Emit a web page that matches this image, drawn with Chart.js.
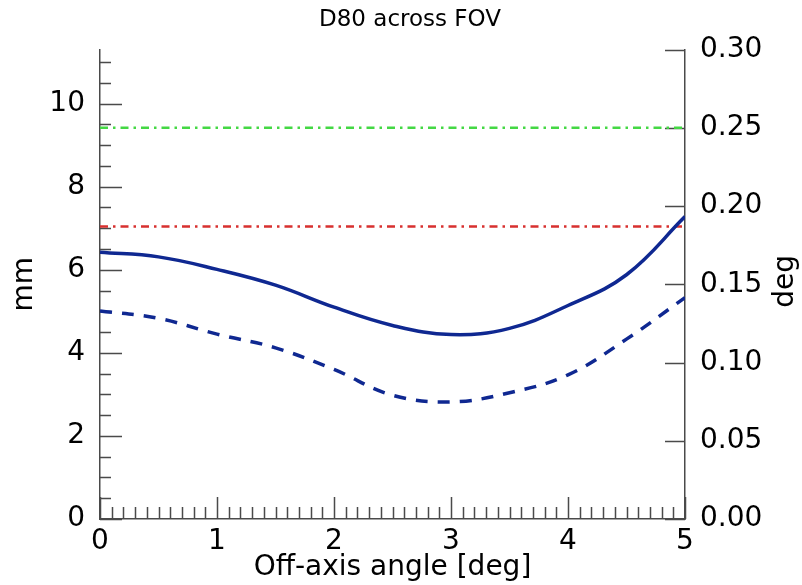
<!DOCTYPE html>
<html>
<head>
<meta charset="utf-8">
<script src="https://cdn.jsdelivr.net/npm/chart.js@4.4.1/dist/chart.umd.min.js"></script>
<style>
  body { margin: 0; background: #fff; }
  #wrap { width: 802px; height: 585px; }
</style>
</head>
<body>
<div id="wrap"><canvas id="grafico"></canvas></div>
<script>
// Dados
const angulos = [0, 0.5, 1, 1.5, 2, 2.5, 3, 3.5, 4, 4.5, 5];
const d80Cheio = [6.42, 6.31, 6.01, 5.63, 5.10, 4.66, 4.44, 4.59, 5.14, 5.88, 7.28];
const d80Tracejado = [5.01, 4.83, 4.45, 4.12, 3.60, 2.98, 2.82, 3.04, 3.47, 4.33, 5.33];
const limiteVerde = 0.25;   // deg
const limiteVermelho = 0.187; // deg
const faixaX = [0, 5];
const maxMm = 11.3;
const maxDeg = 0.3;

Chart.defaults.font.family = "'DejaVu Sans', sans-serif";
Chart.defaults.color = '#000';

const azul = '#0f2891';
const cinza = '#4a4a4a';

function pontos(xs, ys) {
    return xs.map((x, i) => ({ x, y: ys[i] }));
}

// Ticks internos e títulos verticais
const ticksInternos = {
    id: 'ticksInternos',
    beforeDatasetsDraw(chart) {
        const { ctx, chartArea: a, scales } = chart;
        ctx.save();
        ctx.strokeStyle = cinza;
        ctx.lineWidth = 1.5;
        ctx.beginPath();
        // esquerda
        for (let i = 0; i * 0.5 <= maxMm + 1e-9; i++) {
            const v = i * 0.5;
            const y = Math.round(scales.y.getPixelForValue(v)) + 0.5;
            const len = (i % 4 === 0) ? 22 : 11;
            ctx.moveTo(a.left, y);
            ctx.lineTo(a.left + len, y);
        }
        // direita
        for (let i = 0; i <= 6; i++) {
            const y = Math.round(scales.y2.getPixelForValue(i * 0.05)) + 0.5;
            ctx.moveTo(a.right, y);
            ctx.lineTo(a.right - 20, y);
        }
        // baixo
        for (let i = 0; i <= 50; i++) {
            const x = Math.round(scales.x.getPixelForValue(i / 10)) + 0.5;
            const len = (i % 10 === 0) ? 22 : 12;
            ctx.moveTo(x, a.bottom);
            ctx.lineTo(x, a.bottom - len);
        }
        ctx.stroke();
        ctx.restore();
    },
    afterDraw(chart) {
        const { ctx, chartArea: a } = chart;
        const meio = (a.top + a.bottom) / 2;
        ctx.save();
        ctx.fillStyle = '#000';
        ctx.font = "28px 'DejaVu Sans'";
        ctx.textAlign = 'center';
        ctx.textBaseline = 'middle';
        ctx.translate(25, meio);
        ctx.rotate(-Math.PI / 2);
        ctx.fillText('mm', 0, 0);
        ctx.restore();
        ctx.save();
        ctx.fillStyle = '#000';
        ctx.font = "28px 'DejaVu Sans'";
        ctx.textAlign = 'center';
        ctx.textBaseline = 'middle';
        ctx.translate(786, meio - 3);
        ctx.rotate(-Math.PI / 2);
        ctx.fillText('deg', 0, 0);
        ctx.restore();
    }
};

new Chart(document.getElementById('grafico'), {
    type: 'line',
    data: {
        datasets: [
            {
                data: pontos(angulos, d80Cheio),
                yAxisID: 'y',
                borderColor: azul,
                borderWidth: 3.5,
                pointRadius: 0,
                tension: 0.4
            },
            {
                data: pontos(angulos, d80Tracejado),
                yAxisID: 'y',
                borderColor: azul,
                borderWidth: 3.5,
                borderDash: [12, 10],
                pointRadius: 0,
                tension: 0.4
            },
            {
                data: pontos(faixaX, [limiteVerde, limiteVerde]),
                yAxisID: 'y2',
                borderColor: '#44d844',
                borderWidth: 2.5,
                borderDash: [8, 5, 2.5, 5],
                pointRadius: 0
            },
            {
                data: pontos(faixaX, [limiteVermelho, limiteVermelho]),
                yAxisID: 'y2',
                borderColor: '#d8302f',
                borderWidth: 2.5,
                borderDash: [8, 5, 2.5, 5],
                pointRadius: 0
            }
        ]
    },
    options: {
        responsive: true,
        maintainAspectRatio: false,
        animation: false,
        layout: { padding: { left: 18, right: 0, top: 0, bottom: 0 } },
        plugins: {
            legend: { display: false },
            tooltip: { enabled: false },
            title: {
                display: true,
                text: 'D80 across FOV',
                color: '#000',
                font: { size: 23, weight: 'normal' },
                padding: { top: 6, bottom: 16 }
            }
        },
        scales: {
            x: {
                type: 'linear',
                min: 0,
                max: 5,
                grid: { display: false, drawTicks: false },
                border: { color: cinza, width: 1.5 },
                ticks: { stepSize: 1, font: { size: 28 }, padding: 6, maxRotation: 0, autoSkip: false },
                title: {
                    display: true,
                    text: 'Off-axis angle [deg]',
                    font: { size: 28 },
                    padding: { top: 0, bottom: 0 }
                },
                afterFit: s => { s.height = 66; }
            },
            y: {
                position: 'left',
                min: 0,
                max: maxMm,
                grid: { display: false, drawTicks: false },
                border: { color: cinza, width: 1.5 },
                ticks: {
                    stepSize: 2,
                    font: { size: 28 },
                    padding: 15,
                    callback: v => (Math.abs(v % 2) < 1e-9 ? v : '')
                },
                afterFit: s => { s.width = 82; }
            },
            y2: {
                position: 'right',
                min: 0,
                max: maxDeg,
                grid: { display: false, drawTicks: false },
                border: { color: cinza, width: 1.5 },
                ticks: {
                    stepSize: 0.05,
                    font: { size: 28 },
                    padding: 15,
                    callback: v => v.toFixed(2)
                },
                afterFit: s => { s.width = 117; }
            }
        }
    },
    plugins: [ticksInternos]
});
</script>
</body>
</html>
